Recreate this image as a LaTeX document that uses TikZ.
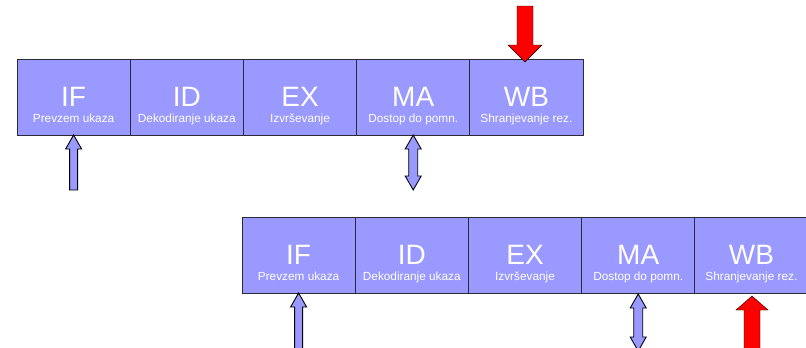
\documentclass[tikz,border=0pt]{standalone}
\usepackage{fontspec}
\setmainfont{Liberation Sans}
\usetikzlibrary{calc,positioning}
\definecolor{stagefill}{HTML}{9999FF}
\definecolor{stageline}{HTML}{2A2A3A}

\tikzset{
  stage/.style={draw=stageline, fill=stagefill, minimum width=113.2pt, minimum height=76pt,
    inner sep=0pt, outer sep=0pt, line width=0.9pt},
  bigname/.style={anchor=base, text=white, inner sep=0pt, font=\fontsize{28}{28}\selectfont},
  subname/.style={anchor=base, text=white, inner sep=0pt, font=\fontsize{11.8}{11.8}\selectfont},
  bluearrow/.style={draw=black, fill=stagefill, line width=0.9pt},
  redarrow/.style={fill=red},
}

\begin{document}
\begin{tikzpicture}[x=1pt, y=-1pt]
  \useasboundingbox (0,0) rectangle (806,348);
  % first instruction
  \node[stage] (IFa) at (73.6,97) {};
  \node[stage, right=0pt of IFa] (IDa) {};
  \node[stage, right=0pt of IDa] (EXa) {};
  \node[stage, right=0pt of EXa] (MAa) {};
  \node[stage, right=0pt of MAa] (WBa) {};
  % second instruction
  \node[stage] (IFb) at (298.6,255) {};
  \node[stage, right=0pt of IFb] (IDb) {};
  \node[stage, right=0pt of IDb] (EXb) {};
  \node[stage, right=0pt of EXb] (MAb) {};
  \node[stage, right=0pt of MAb] (WBb) {};
  % stage names
  \foreach \s/\name/\sub in {IF/IF/Prevzem ukaza, ID/ID/Dekodiranje ukaza, EX/EX/Izvr\v{s}evanje,
      MA/MA/Dostop do pomn., WB/WB/Shranjevanje rez.}{
    \foreach \r in {a,b}{
      \node[bigname] (\s\r N) at ($(\s\r)+(0,9.5)$) {\name};
      \node[subname] (\s\r S) at ($(\s\r)+(0,25)$) {\sub};
    }
  }
  % fetch arrows
  \draw[bluearrow] (IFa.south) -- ++(8,14) -- ++(-4,0) -- ++(0,41) -- ++(-8,0) -- ++(0,-41) -- ++(-4,0) -- cycle;
  \draw[bluearrow] (IFb.south) -- ++(8,14) -- ++(-4,0) -- ++(0,50) -- ++(-8,0) -- ++(0,-50) -- ++(-4,0) -- cycle;
  % memory access arrows
  \draw[bluearrow] (MAa.south) -- ++(8,14) -- ++(-3.5,0) -- ++(0,27) -- ++(3.5,0) -- ++(-8,14)
    -- ++(-8,-14) -- ++(3.5,0) -- ++(0,-27) -- ++(-3.5,0) -- cycle;
  \draw[bluearrow] ($(MAb.south)+(0,1)$) coordinate (MAbtip) -- ++(8,14) -- ++(-3.5,0) -- ++(0,29) -- ++(3.5,0) -- ++(-8,14)
    -- ++(-8,-14) -- ++(3.5,0) -- ++(0,-29) -- ++(-3.5,0) -- cycle;
  % write back arrows
  \draw[redarrow] ($(WBa.north)+(-1.4,3)$) coordinate (WBatip) -- ++(17,-17) -- ++(-9,0) -- ++(0,-39)
    -- ++(-16,0) -- ++(0,39) -- ++(-9,0) -- cycle;
  \draw[redarrow] ($(WBb.south)+(0.6,3)$) coordinate (WBbtip) -- ++(16,14) -- ++(-8,0) -- ++(0,45)
    -- ++(-16,0) -- ++(0,-45) -- ++(-8,0) -- cycle;
\end{tikzpicture}
\end{document}
